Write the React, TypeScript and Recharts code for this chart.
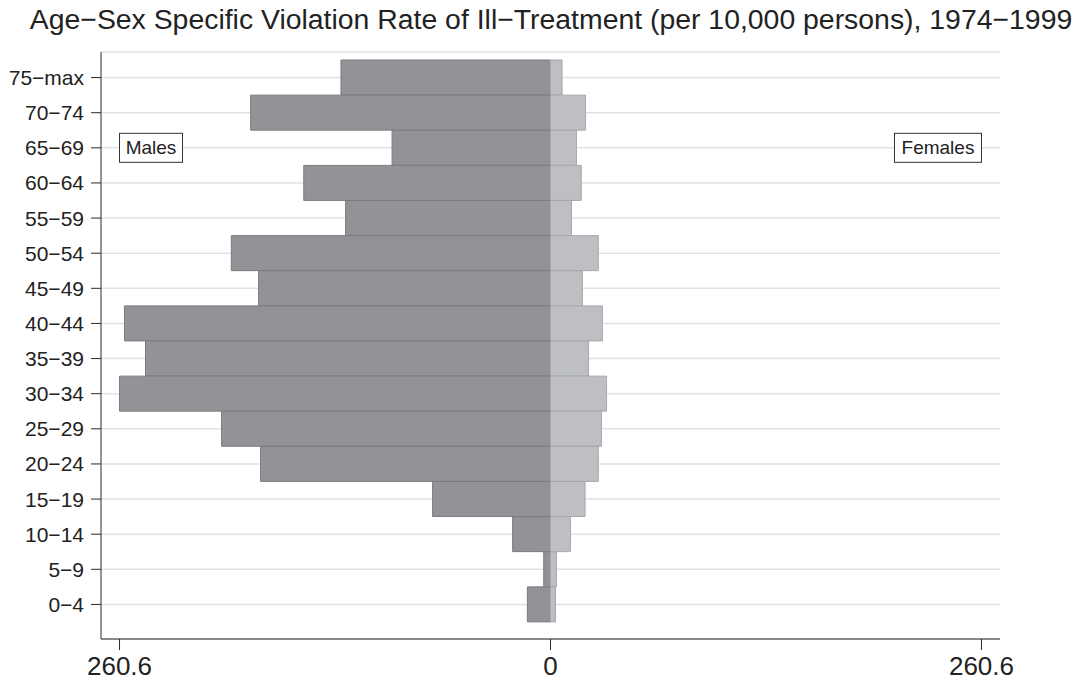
import { BarChart, Bar, XAxis, YAxis, CartesianGrid, ReferenceDot } from 'recharts';

const ages = ['0−4', '5−9', '10−14', '15−19', '20−24', '25−29', '30−34', '35−39',
  '40−44', '45−49', '50−54', '55−59', '60−64', '65−69', '70−74', '75−max'];
const males = [14.0, 4.1, 22.9, 71.3, 175.3, 198.9, 260.6, 244.9,
  257.6, 176.5, 193.0, 123.9, 149.2, 95.8, 181.3, 126.7];
const females = [3.0, 3.6, 12.1, 20.9, 28.9, 30.8, 33.9, 23.0,
  31.4, 19.3, 28.9, 12.7, 18.6, 15.7, 21.2, 7.0];
const xTicks = [-260.6, 0, 260.6];

const FONT = '"Liberation Sans", Arial, Helvetica, sans-serif';

// top row first, as the chart draws categories from the top down
const data = ages
  .map((age, i) => ({ age, males: -males[i], females: females[i] }))
  .reverse();

function LabelBox({ cx, cy, text, w, anchor }: any) {
  if (cx == null || cy == null) return null;
  const x = anchor === 'left' ? cx : cx - w;
  return (
    <g>
      <rect x={x} y={cy - 14.5} width={w} height={29} fill="#fff" stroke="#333" strokeWidth={1} />
      <text x={x + w / 2} y={cy} dy="0.35em" textAnchor="middle" fontSize={19} fill="#222" fontFamily={FONT}>
        {text}
      </text>
    </g>
  );
}

export default function App() {
  return (
    <div style={{ position: 'absolute', left: 0, top: 0, width: 1081, height: 681, background: '#fff', fontFamily: FONT }}>
      <div style={{ position: 'absolute', left: 0, top: 3, width: 1102, textAlign: 'center', fontSize: 28.4, lineHeight: '32px', color: '#222' }}>
        Age−Sex Specific Violation Rate of Ill−Treatment (per 10,000 persons), 1974−1999
      </div>
      <BarChart
        width={1081}
        height={681}
        data={data}
        layout="vertical"
        stackOffset="sign"
        barCategoryGap={0}
        barGap={0}
        margin={{ top: 52, right: 81, bottom: 2, left: 0 }}
      >
        <CartesianGrid horizontal vertical={false} stroke="#e2e2e2" strokeWidth={1.5} />
        <XAxis
          type="number"
          domain={[-271.8, 271.8]}
          ticks={xTicks}
          allowDataOverflow
          tickFormatter={(v: number) => (v === 0 ? '0' : Math.abs(v).toFixed(1))}
          height={40}
          tickSize={11}
          tickMargin={7}
          stroke="#2b2b2b"
          tick={{ fontSize: 26, fill: '#222', fontFamily: FONT }}
        />
        <YAxis
          type="category"
          dataKey="age"
          width={101}
          tickSize={10}
          tickMargin={7}
          padding={{ top: 8, bottom: 17 }}
          stroke="#2b2b2b"
          tick={{ fontSize: 21, fill: '#222', fontFamily: FONT }}
          interval={0}
        />
        <Bar dataKey="males" stackId="a" fill="#929396" stroke="#7b7c80" strokeWidth={1} isAnimationActive={false} />
        <Bar dataKey="females" stackId="a" fill="#bebfc3" stroke="#a7a8ac" strokeWidth={1} isAnimationActive={false} />
        <ReferenceDot
          x={-260.6}
          y="65−69"
          r={0}
          ifOverflow="visible"
          shape={(p: any) => <LabelBox {...p} text="Males" w={63} anchor="left" />}
        />
        <ReferenceDot
          x={260.6}
          y="65−69"
          r={0}
          ifOverflow="visible"
          shape={(p: any) => <LabelBox {...p} text="Females" w={87} anchor="right" />}
        />
      </BarChart>
    </div>
  );
}
